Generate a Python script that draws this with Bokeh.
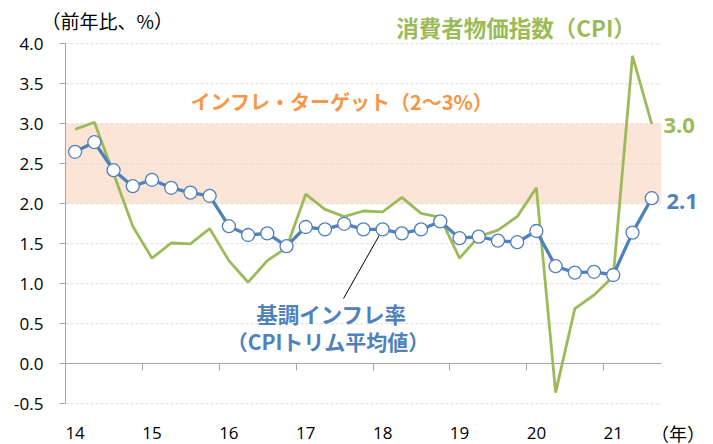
from bokeh.plotting import figure
from bokeh.models import (FixedTicker, BoxAnnotation, Label, NumeralTickFormatter,
                          Range1d, ColumnDataSource, LinearAxis)
from bokeh.embed import file_html
from bokeh.resources import INLINE

# ---- data ----
quarters = ["14Q1", "14Q2", "14Q3", "14Q4", "15Q1", "15Q2", "15Q3", "15Q4",
            "16Q1", "16Q2", "16Q3", "16Q4", "17Q1", "17Q2", "17Q3", "17Q4",
            "18Q1", "18Q2", "18Q3", "18Q4", "19Q1", "19Q2", "19Q3", "19Q4",
            "20Q1", "20Q2", "20Q3", "20Q4", "21Q1", "21Q2", "21Q3"]
year_labels = ["14", "15", "16", "17", "18", "19", "20", "21"]
cpi = [2.93, 3.02, 2.38, 1.72, 1.32, 1.51, 1.50, 1.69,
       1.29, 1.02, 1.29, 1.45, 2.12, 1.93, 1.84, 1.91,
       1.90, 2.08, 1.88, 1.83, 1.32, 1.59, 1.67, 1.84,
       2.20, -0.36, 0.69, 0.86, 1.09, 3.85, 3.00]
trim = [2.65, 2.77, 2.42, 2.22, 2.30, 2.20, 2.14, 2.10,
        1.72, 1.61, 1.63, 1.47, 1.71, 1.68, 1.75, 1.68,
        1.68, 1.63, 1.68, 1.78, 1.57, 1.59, 1.54, 1.52,
        1.66, 1.22, 1.14, 1.15, 1.11, 1.64, 2.07]
y_ticks = [-0.5, 0.0, 0.5, 1.0, 1.5, 2.0, 2.5, 3.0, 3.5, 4.0]
target_low, target_high = 2.0, 3.0

GREEN = "#9BBB59"
BLUE = "#4F81BD"
ORANGE = "#F79646"
BAND = "#FCE4D6"
AXIS = "#A6A6A6"
GRID = "#D9D9D9"
JP = "Noto Sans CJK JP"
NUM = "Open Sans"

# ---- layout (pixels) ----
W, H = 713, 444
X0_PX, PX_PER_Q = 65.0, 19.22      # pixel of x=0, pixels per quarter
Y0_PX, PX_PER_PCT = 363.3, 80.0    # pixel of y=0, pixels per 1 %

n = len(quarters)
xpos = [i + 0.5 for i in range(n)]
src = ColumnDataSource(dict(x=xpos, q=quarters, cpi=cpi, trim=trim))

def dx(px):
    return (px - X0_PX) / PX_PER_Q

def dy(py):
    return (Y0_PX - py) / PX_PER_PCT

p = figure(width=W, height=H, output_backend="svg", toolbar_location=None,
           x_range=Range1d(dx(0), dx(W)), y_range=Range1d(dy(H), dy(0)),
           min_border=0)
p.min_border_left = p.min_border_right = p.min_border_top = p.min_border_bottom = 0
p.outline_line_color = None
p.background_fill_color = "white"
p.border_fill_color = "white"
p.xgrid.visible = False
p.ygrid.visible = False

# target band
p.add_layout(BoxAnnotation(left=0, right=n, bottom=target_low, top=target_high,
                           fill_color=BAND, fill_alpha=1.0, line_color=None,
                           level="underlay"))

# horizontal dashed grid lines (plot area only)
gy = [t for t in y_ticks if t != 0]
p.segment(x0=[0] * len(gy), y0=gy, x1=[n] * len(gy), y1=gy,
          line_color=GRID, line_width=1, line_dash="3 2")

# y axis at x = 0
p.yaxis.fixed_location = 0
p.yaxis.bounds = (y_ticks[0], y_ticks[-1])
p.yaxis.ticker = FixedTicker(ticks=y_ticks)
p.yaxis.formatter = NumeralTickFormatter(format="0.0")
p.yaxis.axis_line_color = AXIS
p.yaxis.major_tick_line_color = AXIS
p.yaxis.major_tick_out = 6
p.yaxis.major_tick_in = 0
p.yaxis.minor_tick_line_color = None
p.yaxis.major_label_standoff = 16
p.yaxis.major_label_text_font = NUM
p.yaxis.major_label_text_font_size = "17px"
p.yaxis.major_label_text_color = "#000000"

# year labels below the plot area
label_pos = [4 * k + 0.5 for k in range(len(year_labels))]
p.xaxis.fixed_location = y_ticks[0]
p.xaxis.ticker = FixedTicker(ticks=label_pos)
p.xaxis.major_label_overrides = {lp: yl for lp, yl in zip(label_pos, year_labels)}
p.xaxis.axis_line_color = None
p.xaxis.major_tick_line_color = None
p.xaxis.minor_tick_line_color = None
p.xaxis.major_label_standoff = 17
p.xaxis.major_label_text_font = NUM
p.xaxis.major_label_text_font_size = "17px"
p.xaxis.major_label_text_color = "#000000"

# zero line with year-boundary tick marks
bounds = [4 * k for k in range(len(year_labels))]
zero_axis = LinearAxis(fixed_location=0, bounds=(0, n), ticker=FixedTicker(ticks=bounds),
                       axis_line_color=AXIS, major_tick_line_color=AXIS,
                       major_tick_out=7, major_tick_in=0, minor_tick_line_color=None,
                       major_label_text_color=None)
p.add_layout(zero_axis, "below")

# leader line for the blue label
lead_idx = 16
p.segment(x0=[dx(343)], y0=[dy(298)], x1=[xpos[lead_idx]], y1=[trim[lead_idx]],
          line_color="#000000", line_width=1)

# series
p.line("x", "cpi", source=src, line_color=GREEN, line_width=2.8)
p.line("x", "trim", source=src, line_color=BLUE, line_width=3.3)
p.scatter("x", "trim", source=src, size=13, marker="circle", fill_color="white",
          line_color=BLUE, line_width=1.3)

# texts
def lab(x, y, text, color, size, font=JP, align="center", bold=True):
    p.add_layout(Label(x=x, y=y, text=text, text_color=color, text_font=font,
                       text_font_size=size, text_font_style="bold" if bold else "normal",
                       text_align=align, text_baseline="middle"))

lab(dx(41), dy(20), "（前年比、%）", "#000000", "19px", align="left", bold=False)
lab(dx(677.5), dy(432), "（年）", "#000000", "18px", bold=False)
lab(dx(515.5), dy(26), "消費者物価指数（CPI）", GREEN, "22.5px")
lab(dx(341.5), dy(101), "インフレ・ターゲット（2～3%）", ORANGE, "20px")
lab(dx(331), dy(313), "基調インフレ率", BLUE, "21.5px")
lab(dx(327.5), dy(340), "（CPIトリム平均値）", BLUE, "21px")
lab(dx(663), cpi[-1] - 0.02, f"{cpi[-1]:.1f}", GREEN, "22px", font=NUM, align="left")
lab(dx(666), trim[-1] - 0.04, f"{trim[-1]:.1f}", BLUE, "22px", font=NUM, align="left")

open("out.html", "w").write(file_html(p, INLINE))
